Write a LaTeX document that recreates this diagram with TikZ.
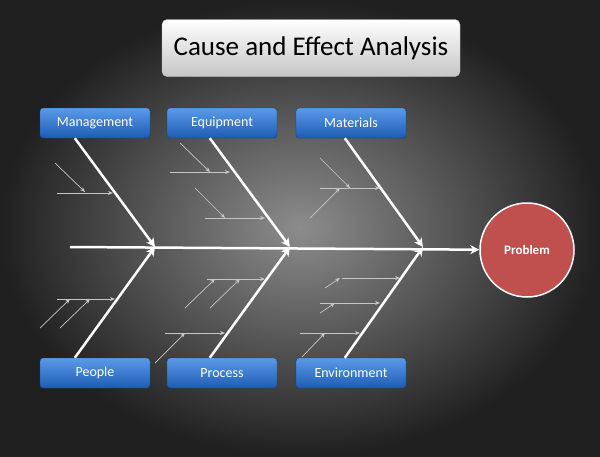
\documentclass[tikz,border=0pt]{standalone}
\usepackage{fontspec}
\setmainfont{Carlito}
\usetikzlibrary{arrows.meta}

\definecolor{boxtop}{HTML}{5A9BE8}
\definecolor{boxbot}{HTML}{1E5CB3}
\definecolor{probred}{HTML}{C0504D}
\definecolor{bginner}{HTML}{8C8C8C}
\definecolor{bgouter}{HTML}{202020}

\begin{document}
\begin{tikzpicture}[x=1pt,y=-1pt,>=Stealth,
	catbox/.style={draw=boxbot!70!black,rounded corners=3pt,top color=boxtop,bottom color=boxbot,
		minimum width=110pt,minimum height=30pt,text=white,font=\fontsize{14}{16}\selectfont},
	bone/.style={white,line width=2.5pt,-{Stealth[length=9pt,width=9pt]}},
	twig/.style={gray!45!white,line width=0.7pt,-{Stealth[length=5pt,width=4pt]}}]
		
		% Background
		\shade[inner color=bginner,outer color=bgouter] (0,0) rectangle (600,456);
		\useasboundingbox (0,0) rectangle (600,456);
		
		% Title
		\node[draw=gray!50,rounded corners=5pt,top color=white,bottom color=gray!45,
			minimum width=298pt,minimum height=57pt,font=\fontsize{27}{31}\selectfont] (title) at (311,48) {Cause and Effect Analysis};
		
		% Categories
		\node[catbox] (mgmt) at (95,123) {Management};
		\node[catbox] (equip) at (222,123) {Equipment};
		\node[catbox] (mat) at (351,123) {Materials};
		\node[catbox] (people) at (95,373) {People};
		\node[catbox] (proc) at (222,373) {Process};
		\node[catbox] (env) at (351,373) {Environment};
		
		% Effect
		\node[circle,draw=white,line width=1.5pt,fill=probred,minimum size=94pt,text=white,
			font=\bfseries\fontsize{13}{15}\selectfont] (prob) at (527,250) {Problem};
		
		% Spine
		\coordinate (tail) at (70,247);
		\coordinate (j1) at (155,247);
		\coordinate (j2) at (290,247);
		\coordinate (j3) at (423,247);
		\draw[bone] (tail) -- (prob);
		
		% Main bones
		\draw[bone] (mgmt.south west) ++(35,0) -- (j1);
		\draw[bone] (equip.south west) ++(43,0) -- (j2);
		\draw[bone] (mat.south west) ++(49,0) -- (j3);
		\draw[bone] (people.north west) ++(35,0) -- (j1);
		\draw[bone] (proc.north west) ++(43,0) -- (j2);
		\draw[bone] (env.north west) ++(49,0) -- (j3);
		
		% Small causes
		\foreach \xa/\ya/\xb/\yb in {55/163/85/192, 57/193/113/193,
			180/143/210/172, 170/172/230/172, 195/188/225/218, 205/218/265/218,
			320/158/350/188, 320/188/380/188, 310/218/340/188,
			57/299/115/299, 40/328/70/299, 60/328/90/299,
			207/279/265/279, 185/308/215/279, 210/308/240/279, 165/333/225/333, 155/363/185/333,
			342/278/400/278, 325/288/340/278, 320/303/380/303, 320/313/335/303, 300/333/360/333, 302/357/325/333}
		\draw[twig] (\xa,\ya) -- (\xb,\yb);
		
	\end{tikzpicture}
\end{document}
